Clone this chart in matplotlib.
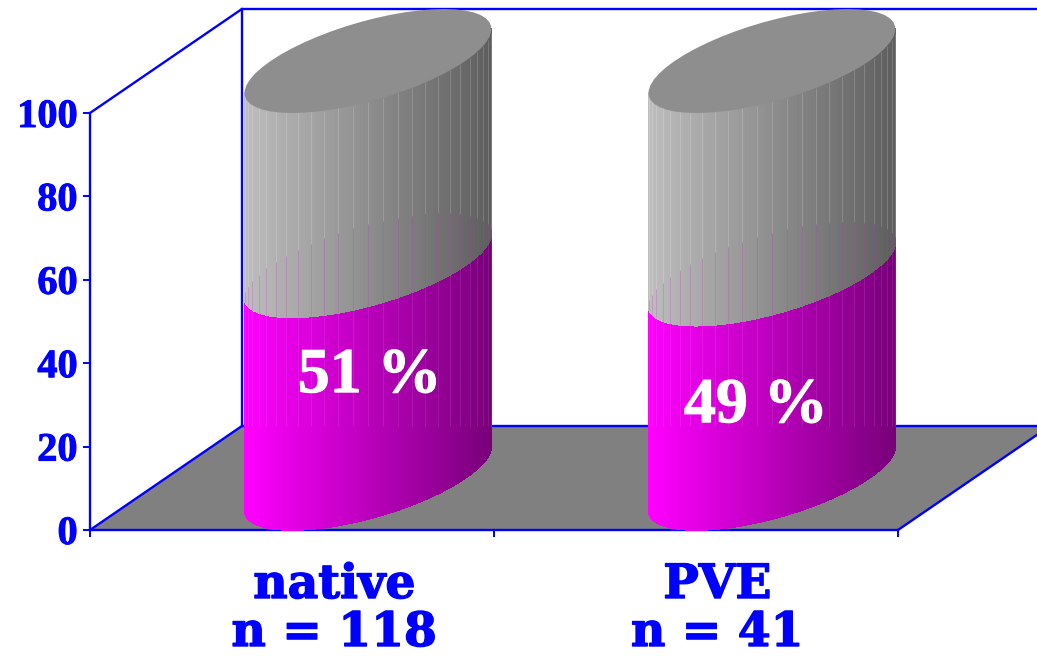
import numpy as np
import matplotlib
matplotlib.use("Agg")
import matplotlib.pyplot as plt
import matplotlib.patheffects as pe
from matplotlib.collections import PolyCollection, LineCollection
from matplotlib.colors import to_rgb

categories = ["native", "PVE"]
counts = [118, 41]
lower_share = [51, 49]
total = [100, 100]
y_ticks = [0, 20, 40, 60, 80, 100]

BLUE = "#0000FF"
SERIF = "Liberation Serif"
WIDE = "DejaVu Serif"

# Oblique projection: one unit of depth moves a point right and up.
SHEAR_X = 0.376
SHEAR_Y = 24.94


def project(x, v, d):
    return np.asarray(x) + SHEAR_X * np.asarray(d), np.asarray(v) + SHEAR_Y * np.asarray(d)


def blend(c0, c1, f):
    c0, c1 = np.array(to_rgb(c0)), np.array(to_rgb(c1))
    return tuple(c0 + (c1 - c0) * f)


fig = plt.figure(figsize=(10.37, 6.56), dpi=100, facecolor="white")
ax = fig.add_axes([90 / 1037, (656 - 530) / 656, 808 / 1037, 417 / 656])
ax.set_xlim(0, 2)
ax.set_ylim(0, 100)
ax.patch.set_visible(False)
for side in ("top", "right"):
    ax.spines[side].set_visible(False)
for side in ("left", "bottom"):
    ax.spines[side].set_color(BLUE)
    ax.spines[side].set_linewidth(1.7)
    ax.spines[side].set_zorder(1.5)

ax.set_yticks(y_ticks)
ax.set_yticklabels([str(t) for t in y_ticks], family=SERIF, weight="bold",
                   fontsize=29, color=BLUE)
for tick_label in ax.get_yticklabels():
    tick_label.set_path_effects([pe.withStroke(linewidth=0.7, foreground=BLUE)])
ax.set_xticks([0, 1, 2])
ax.set_xticklabels([])
ax.tick_params(axis="both", color=BLUE, width=1.4, length=5, direction="out")
ax.tick_params(axis="y", pad=4)

# Floor and the blue wire frame of the chart box.
fx, fy = project([0, 2, 2, 0], [0, 0, 0, 0], [0, 0, 1, 1])
ax.fill(fx, fy, color="#808080", lw=0, zorder=1, clip_on=False)
frame = [
    ([0, 0, 2], [0, 0, 0], [0, 1, 1]),
    ([2, 2], [0, 0], [0, 1]),
    ([0, 0], [0, 100], [1, 1]),
    ([0, 0, 2], [100, 100, 100], [0, 1, 1]),
]
for xs, vs, ds in frame:
    px, py = project(xs, vs, ds)
    ax.plot(px, py, color=BLUE, lw=1.7, zorder=1.2, clip_on=False,
            solid_joinstyle="miter")

# Cylinder cross-section: a faceted circle on the floor plane.
RADIUS_X = 0.241
RADIUS_D = 0.5
FACETS = 26
SUBDIV = 4
RIGHT_EDGE = np.arctan2(RADIUS_D * SHEAR_X, RADIUS_X)


def outline(center, angles):
    x = center + RADIUS_X * np.cos(angles)
    d = 0.5 + RADIUS_D * np.sin(angles)
    return x, d


def side_wall(center, v0, v1, c_left, c_right):
    """Front-facing wall of the cylinder between two values, shaded left to right."""
    angles = np.linspace(RIGHT_EDGE - np.pi, RIGHT_EDGE, FACETS * SUBDIV + 1)
    x, d = outline(center, angles)
    px0, py0 = project(x, v0, d)
    px1, py1 = project(x, v1, d)
    polys, cols = [], []
    for i in range(len(angles) - 1):
        polys.append([(px0[i], py0[i]), (px0[i + 1], py0[i + 1]),
                      (px1[i + 1], py1[i + 1]), (px1[i], py1[i])])
        mid = (px0[i] + px0[i + 1]) / 2
        f = (mid - px0.min()) / (px0.max() - px0.min())
        cols.append(blend(c_left, c_right, f))
    ax.add_collection(PolyCollection(polys, facecolors=cols, edgecolors=cols,
                                     linewidths=0.5, antialiaseds=False,
                                     zorder=2, clip_on=False))


label_x = [0.504, 1.46]
label_v = [20.6, 13.4]

for i, (name, n, low, top) in enumerate(zip(categories, counts, lower_share, total)):
    center = i + 0.5
    side_wall(center, 0, low, "#FF00FF", "#78007A")
    side_wall(center, low, top, "#BEBEBE", "#5E5E5E")

    # Cap of the cylinder.
    t = np.linspace(0, 2 * np.pi, FACETS * 2 + 1)
    x, d = outline(center, t)
    cx, cy = project(x, top, d)
    ax.fill(cx, cy, color="#8E8E8E", lw=0, zorder=3, clip_on=False)

    # Far rim of the magenta section, used to end the tinted seams.
    rim = np.linspace(RIGHT_EDGE, RIGHT_EDGE + np.pi, 200)
    rx, rd = outline(center, rim)
    rim_x, rim_v = project(rx, low, rd)
    order = np.argsort(rim_x)

    # Thin facet seams on the wall.
    seam_angles = np.linspace(RIGHT_EDGE - np.pi, RIGHT_EDGE, FACETS + 1)[1:-1]
    sx, sd = outline(center, seam_angles)
    light, pink, soft = [], [], []
    for xs, ds in zip(sx, sd):
        px, top_y = project(xs, top, ds)
        _, edge_y = project(xs, low, ds)
        back_y = np.interp(px, rim_x[order], rim_v[order])
        light.append([(px, top_y), (px, back_y)])
        pink.append([(px, back_y), (px, edge_y)])
        soft.append([(px, edge_y), (px, SHEAR_Y)])
    ax.add_collection(LineCollection(light, colors=[(1, 1, 1, 0.2)], linewidths=0.6,
                                     zorder=3.2, clip_on=False))
    ax.add_collection(LineCollection(pink, colors=[(0.75, 0.2, 0.75, 0.28)], linewidths=0.6,
                                     zorder=3.2, clip_on=False))
    ax.add_collection(LineCollection(soft, colors=[(1, 0.7, 1, 0.14)], linewidths=0.6,
                                     zorder=3.2, clip_on=False))

    # Share printed on the magenta part.
    lx, ly = project(label_x[i], label_v[i], 0.5)
    ax.text(lx, ly, f"{low} %", family=SERIF, weight="bold", fontsize=46,
            color="white", ha="center", va="baseline", zorder=5,
            path_effects=[pe.withStroke(linewidth=0.8, foreground="white")])

# Category captions under the axis.
caption_x = [0.605, 1.553]
heavy = [pe.withStroke(linewidth=1.0, foreground=BLUE)]
for name, n, xc in zip(categories, counts, caption_x):
    ax.annotate(name, (xc, 0), xytext=(0, -68 * 0.72), textcoords="offset points",
                ha="center", va="baseline", family=WIDE, weight="bold",
                fontsize=34, color=BLUE, annotation_clip=False, path_effects=heavy)
    ax.annotate(f"n = {n}", (xc, 0), xytext=(0, -116 * 0.72), textcoords="offset points",
                ha="center", va="baseline", family=WIDE, weight="bold",
                fontsize=34, color=BLUE, annotation_clip=False, path_effects=heavy)

fig.savefig("out.png", dpi=100, facecolor="white")
